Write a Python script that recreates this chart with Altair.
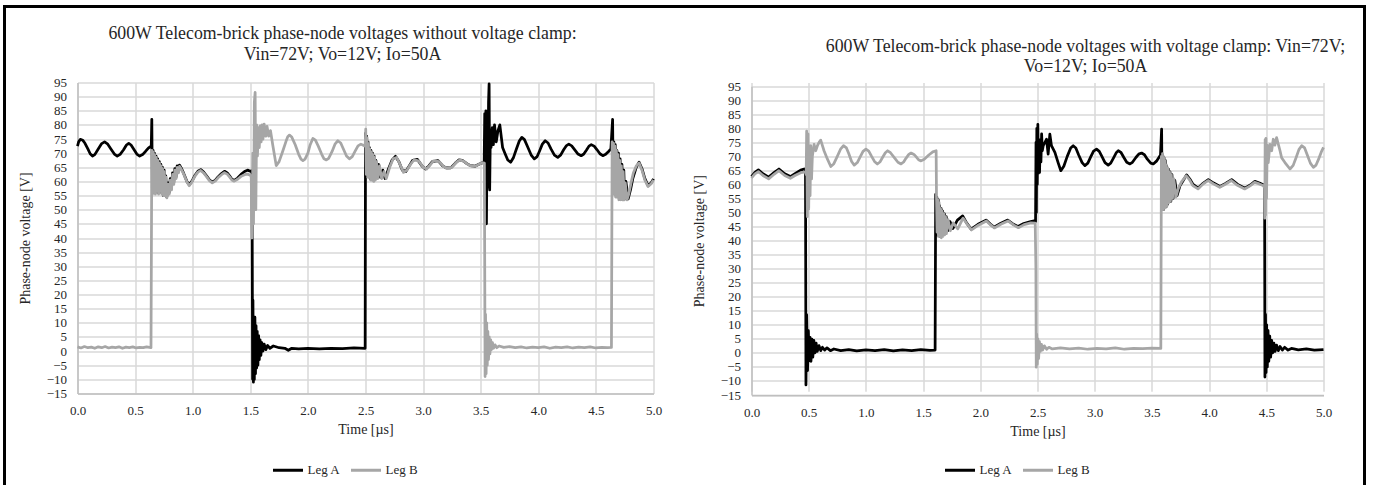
import altair as alt
import pandas as pd

# ---------------- data ----------------
# Left panel: without voltage clamp
LA_t = ([0.00, 0.01, 0.025, 0.045, 0.065, 0.09, 0.11, 0.13, 0.15, 0.18, 0.21, 0.235, 0.26, 0.29, 0.32, 0.345, 0.37, 0.40, 0.425, 0.445, 0.465, 0.49, 0.515, 0.54, 0.565, 0.59, 0.615, 0.632, 0.640, 0.645]
        + [0.650, 0.656, 0.662, 0.668, 0.675, 0.682, 0.689, 0.696, 0.703, 0.710, 0.717, 0.724, 0.731, 0.738, 0.745, 0.752, 0.759, 0.766, 0.775]
        + [0.785, 0.795, 0.805, 0.815, 0.825, 0.835, 0.845, 0.855, 0.865, 0.875, 0.885, 0.90, 0.915, 0.93, 0.95, 0.97, 0.995, 1.02, 1.045, 1.07, 1.095, 1.12, 1.145, 1.17, 1.195, 1.22, 1.25, 1.276, 1.30, 1.32, 1.34, 1.36, 1.39, 1.42, 1.45, 1.476, 1.50, 1.515]
        + [1.520, 1.523, 1.527, 1.531, 1.535, 1.540, 1.545, 1.550, 1.555, 1.560, 1.566, 1.572, 1.578, 1.585, 1.592, 1.600, 1.610, 1.620, 1.635, 1.650, 1.670, 1.700, 1.750, 1.800, 1.830, 1.860, 1.920, 2.000, 2.100, 2.200, 2.300, 2.400, 2.497]
        + [2.500, 2.505, 2.510, 2.516, 2.522, 2.528, 2.534, 2.540, 2.547, 2.554, 2.561, 2.568, 2.575, 2.582, 2.590, 2.600, 2.615, 2.630, 2.650, 2.670]
        + [2.700, 2.730, 2.760, 2.790, 2.820, 2.850, 2.880, 2.910, 2.950, 2.990, 3.020, 3.050, 3.080, 3.130, 3.170, 3.200, 3.240, 3.280, 3.310, 3.340, 3.380, 3.410, 3.450, 3.480, 3.500, 3.530]
        + [3.535, 3.540, 3.545, 3.550, 3.556, 3.562, 3.568, 3.573, 3.578, 3.584, 3.590, 3.600, 3.610, 3.620, 3.635, 3.650, 3.666, 3.690, 3.710, 3.735, 3.760, 3.785, 3.810, 3.835, 3.857, 3.880, 3.910, 3.940, 3.965, 3.990, 4.010, 4.035, 4.060, 4.085, 4.110, 4.140, 4.169, 4.195, 4.220, 4.245, 4.265, 4.290, 4.320, 4.345, 4.372, 4.395, 4.420, 4.440, 4.460, 4.485, 4.510, 4.535, 4.560, 4.585, 4.610, 4.630, 4.645]
        + [4.650, 4.656, 4.662, 4.668, 4.675, 4.682, 4.689, 4.696, 4.703, 4.710, 4.718, 4.726, 4.734, 4.742, 4.750, 4.760, 4.780, 4.800, 4.820, 4.850, 4.875, 4.900, 4.925, 4.953, 4.980, 5.000])
LA_v = ([72.5, 74.0, 74.9, 74.6, 73.5, 71.5, 69.8, 69.0, 69.5, 71.5, 73.4, 74.0, 73.3, 71.5, 69.7, 69.0, 69.6, 71.2, 72.9, 73.5, 72.9, 71.3, 69.7, 69.0, 69.5, 70.6, 71.8, 72.3, 72.0, 82.0]
        + [56, 71, 57, 70, 56, 69, 57, 68, 56, 67, 57, 66, 56, 65, 55, 64, 55, 62, 54.5]
        + [59.5, 56, 61, 57.5, 63, 59.5, 64.5, 61.5, 65.5, 63.5, 65.8, 64.8, 63.5, 62, 60, 58.8, 60.2, 62.2, 63.6, 64.2, 63.3, 62, 60.6, 59.8, 60.4, 61.6, 62.8, 63.6, 63, 62, 60.8, 60.4, 61.2, 62.5, 63.5, 64.0, 63.6, 63.8]
        + [-10, 18, -11, 10, -10, 12, -8, 9, -6, 7, -5, 5.5, -3, 4, -1.5, 3, 0, 2.5, 0.5, 2, 1, 1.8, 1.2, 1.0, 0.3, 1.0, 0.8, 1.0, 0.8, 1.0, 0.9, 1.1, 1.0]
        + [77, 63, 76, 62, 74, 62, 72, 61, 71, 61, 70, 60.5, 69, 61, 67.5, 61.5, 66, 61.5, 64, 61]
        + [64.5, 67.5, 68.9, 67, 64, 63.5, 65.5, 67.5, 67.8, 65.5, 64.4, 65.5, 67, 67.4, 65.5, 64.8, 64.8, 66.5, 67.6, 67.5, 66.3, 65.6, 65.4, 66, 66.4, 66.8]
        + [84, 47, 85, 45, 80, 58, 88, 94.5, 57, 78, 72, 79, 73, 80, 74, 78, 80, 72, 70, 67.6, 66.8, 68.5, 71.5, 74.3, 75.6, 74.8, 72, 69.2, 68, 68.8, 70.7, 73.2, 74.4, 73.6, 71.5, 69.3, 68.5, 69.4, 71.2, 72.7, 73.2, 72.6, 71, 69.7, 69.1, 69.7, 71.2, 72.5, 73, 72.5, 71.2, 69.8, 69.1, 69.6, 70.6, 71.5, 82]
        + [60, 74, 56, 73, 55, 71, 55, 70, 54, 68, 54, 66, 54, 64, 53.8, 60, 53.8, 57, 61, 65, 66.8, 64.5, 61, 58.5, 59.5, 60.9])

LB_t = ([0.00, 0.03, 0.06, 0.09, 0.12, 0.15, 0.18, 0.21, 0.24, 0.27, 0.30, 0.33, 0.36, 0.39, 0.42, 0.45, 0.48, 0.51, 0.54, 0.57, 0.60, 0.638]
        + [0.645, 0.651, 0.657, 0.663, 0.669, 0.676, 0.683, 0.690, 0.697, 0.704, 0.711, 0.718, 0.725, 0.732, 0.739, 0.746, 0.753, 0.760, 0.767, 0.776]
        + [0.786, 0.796, 0.806, 0.816, 0.826, 0.836, 0.846, 0.856, 0.866, 0.876, 0.886, 0.90, 0.915, 0.93, 0.95, 0.97, 0.995, 1.02, 1.045, 1.07, 1.095, 1.12, 1.145, 1.17, 1.195, 1.22, 1.25, 1.276, 1.30, 1.32, 1.34, 1.36, 1.39, 1.42, 1.45, 1.476, 1.50]
        + [1.508, 1.515, 1.522, 1.528, 1.535, 1.542, 1.548, 1.555, 1.562, 1.570, 1.578, 1.586, 1.594, 1.602, 1.610, 1.620, 1.635, 1.645, 1.660, 1.675, 1.696, 1.725, 1.750, 1.780, 1.810, 1.825, 1.840, 1.860, 1.890, 1.920, 1.940, 1.957, 1.975, 2.000, 2.020, 2.043, 2.065, 2.090, 2.120, 2.140, 2.160, 2.180, 2.210, 2.235, 2.260, 2.285, 2.310, 2.335, 2.360, 2.385, 2.410, 2.435, 2.460, 2.480, 2.497]
        + [2.502, 2.507, 2.513, 2.519, 2.525, 2.531, 2.537, 2.544, 2.551, 2.558, 2.565, 2.572, 2.579, 2.586, 2.595, 2.607, 2.622, 2.640, 2.660, 2.680]
        + [2.710, 2.740, 2.770, 2.800, 2.830, 2.860, 2.890, 2.920, 2.960, 3.000, 3.030, 3.060, 3.090, 3.140, 3.180, 3.210, 3.250, 3.290, 3.320, 3.350, 3.390, 3.420, 3.460, 3.490, 3.520, 3.532]
        + [3.538, 3.542, 3.547, 3.552, 3.557, 3.562, 3.568, 3.574, 3.580, 3.587, 3.594, 3.602, 3.612, 3.625, 3.640, 3.660, 3.700, 3.750, 3.800, 3.850, 3.900, 3.950, 4.000, 4.050, 4.100, 4.150, 4.200, 4.250, 4.300, 4.350, 4.400, 4.450, 4.500, 4.550, 4.600, 4.635]
        + [4.641, 4.647, 4.653, 4.659, 4.665, 4.671, 4.678, 4.685, 4.692, 4.699, 4.706, 4.713, 4.721, 4.729, 4.737, 4.745, 4.755, 4.770, 4.785, 4.805, 4.825, 4.850, 4.875, 4.900, 4.925, 4.953, 4.980, 5.000])
LB_v = ([1.5, 1.1, 1.6, 1.2, 1.4, 1.0, 1.5, 1.2, 1.6, 1.1, 1.4, 1.2, 1.5, 1.0, 1.4, 1.2, 1.5, 1.1, 1.3, 1.2, 1.5, 1.2]
        + [71, 55.5, 70.5, 56.5, 69.5, 55.5, 68.5, 56.5, 67.5, 55.5, 66.5, 56.5, 65.5, 55.5, 64.5, 55, 63.5, 55, 61.5, 54.2]
        + [59, 55.5, 60.5, 57, 62.5, 59, 64, 61, 65, 63, 65.3, 64.4, 63.2, 61.8, 59.8, 58.5, 59.9, 61.9, 63.3, 63.9, 63, 61.7, 60.3, 59.5, 60.1, 61.3, 62.4, 63.1, 62.6, 61.6, 60.5, 60.1, 60.8, 61.8, 62.4, 62.6, 62.2]
        + [61.5, 40, 70, 45, 88, 91.5, 50, 80, 69, 79, 72, 79.7, 74, 80, 75, 80.3, 76, 79.5, 76, 78, 72.6, 65.6, 67.0, 70.5, 74.2, 75.8, 76.4, 75.7, 73.0, 69.6, 67.9, 67.4, 67.9, 70.0, 73.0, 75.2, 74.6, 72.5, 69.6, 68.0, 67.6, 68.2, 70.6, 73.2, 74.4, 73.6, 71.3, 69.0, 68.0, 68.8, 70.7, 72.6, 73.2, 72.8, 72.5]
        + [78.5, 62.5, 75.5, 61.5, 73.5, 61.5, 71.5, 60.5, 70.5, 60.5, 69.5, 60, 68.5, 60.5, 67, 61, 65.5, 61, 63.5, 61]
        + [65, 68, 68.5, 66, 63.2, 64, 66, 67.6, 67.3, 65, 64.4, 65.8, 67.3, 67, 65.2, 64.6, 65, 66.8, 67.6, 67.2, 66, 65.4, 65.5, 66.2, 66.6, 66.5]
        + [-9, 13, -8, 10, -5, 7, -3, 5, -1, 4, 0.5, 3, 1, 2.2, 1.2, 1.8, 1.3, 1.6, 1.2, 1.5, 1.1, 1.4, 1.2, 1.5, 1.0, 1.4, 1.2, 1.5, 1.1, 1.4, 1.2, 1.5, 1.1, 1.3, 1.2, 1.3]
        + [74, 55.5, 73.5, 55.5, 72.5, 54.5, 71, 54.5, 69.5, 53.5, 67.5, 53.5, 65.5, 53.5, 63.5, 53.5, 59.5, 53.5, 55.5, 59.5, 63, 65.5, 66.5, 64, 60.5, 58.2, 59.2, 60.5])

# Right panel: with voltage clamp
RA_t = ([0.00, 0.03, 0.06, 0.10, 0.15, 0.20, 0.24, 0.29, 0.34, 0.38, 0.43, 0.46, 0.472]
        + [0.476, 0.482, 0.490, 0.497, 0.505, 0.512, 0.520, 0.528, 0.536, 0.545, 0.555, 0.565, 0.575, 0.590, 0.605, 0.620, 0.640, 0.660, 0.690, 0.720, 0.780]
        + [0.85, 0.92, 1.00, 1.08, 1.16, 1.24, 1.32, 1.40, 1.48, 1.56, 1.605]
        + [1.610, 1.615, 1.620, 1.626, 1.632, 1.638, 1.644, 1.650, 1.657, 1.664, 1.671, 1.678, 1.686, 1.694, 1.702, 1.715, 1.735, 1.760, 1.800, 1.846, 1.880, 1.920, 1.980, 2.050, 2.090, 2.120, 2.180, 2.240, 2.290, 2.330, 2.380, 2.440, 2.470, 2.483]
        + [2.487, 2.490, 2.494, 2.498, 2.503, 2.508, 2.513, 2.518, 2.524, 2.530, 2.536, 2.542, 2.550, 2.565, 2.579, 2.593, 2.608, 2.622, 2.652, 2.680, 2.704, 2.730, 2.760, 2.790, 2.812, 2.835, 2.860, 2.890, 2.914, 2.940, 2.965, 2.990, 3.016, 3.040, 3.065, 3.090, 3.118, 3.140, 3.165, 3.190, 3.206, 3.230, 3.255, 3.280, 3.308, 3.330, 3.360, 3.385, 3.410, 3.435, 3.460, 3.490, 3.512, 3.540, 3.561, 3.575, 3.585]
        + [3.590, 3.595, 3.600, 3.606, 3.612, 3.618, 3.624, 3.630, 3.637, 3.644, 3.651, 3.658, 3.666, 3.675, 3.685, 3.700, 3.720, 3.745, 3.775, 3.803, 3.830, 3.860, 3.905, 3.950, 3.993, 4.040, 4.095, 4.140, 4.197, 4.250, 4.313, 4.360, 4.400, 4.440, 4.474, 4.485]
        + [4.488, 4.493, 4.498, 4.503, 4.509, 4.515, 4.522, 4.530, 4.538, 4.547, 4.556, 4.566, 4.577, 4.590, 4.605, 4.620, 4.640, 4.660, 4.690, 4.720, 4.780, 4.850, 4.920, 5.000])
RA_v = ([62.8, 64.3, 65.2, 63.8, 62.6, 64.3, 65.5, 63.8, 62.8, 63.8, 65.1, 65.5, 65.6]
        + [-11.4, 13.6, -6.3, 7.9, -2.8, 5.5, -3, 4.9, -1.5, 4.5, 0, 3.5, 0.5, 2.6, 0.8, 2, 1, 1.8, 0.8, 1.4, 0.8]
        + [1.2, 0.7, 1.1, 0.8, 1.2, 0.7, 1.1, 0.8, 1.2, 0.9, 1.0]
        + [56.5, 43.5, 55.5, 42, 54.5, 42, 52.5, 41.5, 51.5, 42, 50.5, 42.5, 49.5, 43, 48.5, 43.5, 46.8, 44.3, 47.3, 48.8, 46.3, 44.1, 45.8, 47.3, 45.8, 44.8, 46.2, 47.3, 45.8, 45, 46.1, 46.8, 47, 46.8]
        + [75, 50, 80, 60, 81.4, 64, 74, 64.3, 76, 68, 78, 72, 73.8, 75, 76.1, 70.8, 77.9, 73.8, 71.4, 67.8, 64.9, 66.5, 70, 73, 73.8, 73, 70.5, 67.8, 66.7, 67.6, 69.8, 71.9, 72.6, 71.8, 69.8, 67.8, 66.9, 67.6, 69.5, 71.4, 72, 71.4, 69.6, 67.9, 67.3, 67.9, 69.6, 70.8, 71.2, 70.6, 69, 67.6, 67.3, 68.3, 69.6, 70.5, 79.7]
        + [52, 70.5, 51, 69.5, 52, 68.5, 52, 66.5, 53, 65.5, 54, 64.5, 54, 63.5, 55, 61.5, 56, 59.5, 61.5, 63.4, 62, 60, 58.7, 60.5, 61.7, 60.5, 59.3, 60.3, 61.7, 60, 58.7, 59.8, 61.1, 60.5, 59.9, 59.5]
        + [-8.6, 13.7, -7, 10, -5, 8, -3, 6, -1.5, 4.5, 0, 3.5, 0.5, 2.8, 0.8, 2.3, 1, 2, 1, 1.6, 1.1, 1.4, 1.0, 1.2])

RB_t = ([0.00, 0.03, 0.06, 0.10, 0.15, 0.20, 0.24, 0.29, 0.34, 0.38, 0.43, 0.46, 0.474]
        + [0.478, 0.482, 0.488, 0.494, 0.500, 0.506, 0.512, 0.518, 0.525, 0.532, 0.547, 0.561, 0.576, 0.591, 0.605, 0.620, 0.634, 0.664, 0.693, 0.720, 0.750, 0.780, 0.804, 0.830, 0.850, 0.875, 0.898, 0.925, 0.950, 0.975, 1.000, 1.025, 1.050, 1.075, 1.100, 1.125, 1.145, 1.170, 1.190, 1.215, 1.250, 1.280, 1.307, 1.330, 1.350, 1.375, 1.395, 1.420, 1.440, 1.460, 1.482, 1.510, 1.550, 1.585, 1.614]
        + [1.617, 1.622, 1.628, 1.634, 1.640, 1.646, 1.652, 1.659, 1.666, 1.673, 1.680, 1.688, 1.696, 1.704, 1.718, 1.738, 1.763, 1.803, 1.849, 1.883, 1.923, 1.983, 2.053, 2.093, 2.123, 2.183, 2.243, 2.293, 2.333, 2.383, 2.443, 2.480]
        + [2.486, 2.489, 2.493, 2.498, 2.503, 2.510, 2.517, 2.525, 2.535, 2.545, 2.560, 2.580, 2.600, 2.630]
        + [2.70, 2.78, 2.86, 2.94, 3.02, 3.10, 3.18, 3.26, 3.34, 3.42, 3.50, 3.578]
        + [3.583, 3.588, 3.593, 3.598, 3.603, 3.609, 3.615, 3.621, 3.627, 3.633, 3.640, 3.647, 3.654, 3.662, 3.670, 3.680, 3.692, 3.710, 3.730, 3.760, 3.800, 3.828, 3.858, 3.903, 3.948, 3.991, 4.038, 4.093, 4.138, 4.195, 4.248, 4.311, 4.358, 4.398, 4.438, 4.472, 4.484]
        + [4.487, 4.490, 4.493, 4.497, 4.502, 4.508, 4.517, 4.532, 4.547, 4.561, 4.575, 4.590, 4.620, 4.634, 4.663, 4.707, 4.735, 4.760, 4.785, 4.809, 4.835, 4.860, 4.885, 4.911, 4.935, 4.960, 4.980, 5.000])
RB_v = ([62.3, 63.8, 64.6, 63.2, 62.0, 63.7, 64.9, 63.2, 62.2, 63.2, 64.2, 64.4, 64.5]
        + [63.5, 79, 48.5, 78, 51.3, 73.8, 56, 73.8, 62, 70, 74.3, 72, 73.8, 75, 75.8, 73.8, 72, 69, 66.4, 67.4, 70, 72.7, 73.8, 73, 71, 68.2, 66.9, 67.8, 69.8, 71.8, 72.6, 71.9, 70, 68.2, 67.3, 68.1, 69.6, 71.3, 72, 71.3, 69.5, 67.9, 67.3, 68, 69.3, 70.7, 71.2, 70.7, 69.8, 68.8, 68.4, 69, 70.5, 71.6, 72]
        + [55.5, 43, 54.5, 41.5, 53.5, 41.5, 51.5, 41, 50.5, 41.5, 49.5, 42, 48.5, 42.5, 47.5, 43.5, 46.3, 44.2, 48, 46, 43.8, 45.5, 47, 45.5, 44.5, 45.9, 47, 45.5, 44.6, 45.7, 46.3, 46.2]
        + [30, -5.1, 6.7, -4, 5, -2, 4, 0.5, 3, 1, 2.5, 1.3, 2, 1.4]
        + [1.8, 1.4, 1.7, 1.3, 1.6, 1.4, 1.8, 1.3, 1.6, 1.5, 1.7, 1.6]
        + [70, 51.5, 71, 51, 69.5, 51.5, 68.5, 52, 67, 52.5, 65.5, 53.5, 64.5, 54, 63.5, 55, 62, 55.5, 58.5, 61, 63.1, 61.7, 59.6, 58.4, 60.2, 61.4, 60.2, 59, 60, 61.4, 59.7, 58.4, 59.5, 60.8, 60.2, 59.6, 59]
        + [48, 76, 49, 76.4, 55, 74, 67.8, 74.3, 72, 76.1, 74, 76.7, 72, 69.5, 67.8, 65.5, 66.8, 69.5, 72.4, 73.8, 73, 70.3, 67.6, 66.1, 66.9, 69.3, 71.5, 73.2])

SERIES = ["Leg A", "Leg B"]
COLORS = ["#000000", "#a6a6a6"]
Y_TICKS = list(range(-15, 100, 5))
X_TICKS = [0.0, 0.5, 1.0, 1.5, 2.0, 2.5, 3.0, 3.5, 4.0, 4.5, 5.0]
TITLE_L = ["600W Telecom-brick phase-node voltages without voltage clamp:", "Vin=72V; Vo=12V; Io=50A"]
TITLE_R = ["600W Telecom-brick phase-node voltages with voltage clamp: Vin=72V;", "Vo=12V; Io=50A"]
X_TITLE = "Time [µs]"
Y_TITLE = "Phase-node voltage [V]"

# ---------------- styling ----------------
FONT = "Liberation Serif, Times New Roman, serif"
TXT = "#262626"
GRID = "#d9d9d9"
DOMAIN = "#bfbfbf"


def series_df(ts, vs, name):
    return pd.DataFrame({"t": ts, "v": vs, "series": name, "i": list(range(len(ts)))})


def panel(a_t, a_v, b_t, b_v, title, w, h, yrange, tdx, tdy, lh, lx, ly, extra=()):
    x = alt.X("t:Q", scale=alt.Scale(domain=[0, 5], nice=False, zero=False),
              axis=alt.Axis(values=X_TICKS, format=".1f", title=X_TITLE, grid=True,
                            gridColor=GRID, gridWidth=1.5, domainColor=DOMAIN, domainWidth=1.5,
                            ticks=False, labelPadding=11, labelFontSize=13, labelFont=FONT,
                            labelColor=TXT, labelFlush=False, labelOverlap=False,
                            titleFont=FONT, titleFontSize=14, titleFontWeight="normal",
                            titleColor=TXT, titlePadding=5))
    if yrange is not None:
        yscale = alt.Scale(domain=[-15, 95], nice=False, zero=False, range=yrange)
    else:
        yscale = alt.Scale(domain=[-15, 95], nice=False, zero=False)
    y = alt.Y("v:Q", scale=yscale,
              axis=alt.Axis(values=Y_TICKS, title=Y_TITLE, grid=True, gridColor=GRID,
                            gridWidth=1.5, domainColor=DOMAIN, domainWidth=1.5, ticks=False,
                            labelPadding=11, labelFontSize=13, labelFont=FONT, labelColor=TXT,
                            labelOverlap=False, labelFlush=False, titleFont=FONT, titleFontSize=14,
                            titleFontWeight="normal", titleColor=TXT, titlePadding=14))
    color = alt.Color("series:N", scale=alt.Scale(domain=SERIES, range=COLORS),
                      legend=alt.Legend(title=None, orient="none", legendX=lx, legendY=ly,
                                        direction="horizontal", symbolType="stroke",
                                        symbolSize=900, symbolStrokeWidth=3, labelFontSize=13,
                                        labelFont=FONT, labelColor=TXT, labelOffset=3,
                                        columnPadding=4, padding=0))

    def line(df):
        return alt.Chart(df).mark_line(strokeWidth=2.75, strokeJoin="round").encode(
            x=x, y=y, color=color, order="i:Q")

    layers = [line(series_df(a_t, a_v, "Leg A")), line(series_df(b_t, b_v, "Leg B"))] + list(extra)
    return alt.layer(*layers).properties(
        width=w, height=h,
        title=alt.TitleParams(text=title, font=FONT, fontSize=17.8, fontWeight="normal",
                              color=TXT, anchor="middle", frame="group", dx=tdx, dy=tdy,
                              offset=0, lineHeight=lh, baseline="alphabetic"))


FRAME_DF = pd.DataFrame({"k": [0]})
frame_left = alt.Chart(FRAME_DF).mark_rule(color="black", strokeWidth=3, strokeCap="square").encode(
    x=alt.value(-73), y=alt.value(-76), y2=alt.value(401))
frame_top = alt.Chart(FRAME_DF).mark_rule(color="black", strokeWidth=3, strokeCap="square").encode(
    x=alt.value(-73), x2=alt.value(1287), y=alt.value(-76))
frame_right = alt.Chart(FRAME_DF).mark_rule(color="black", strokeWidth=3, strokeCap="square").encode(
    x=alt.value(1287), y=alt.value(-76), y2=alt.value(401))

left = panel(LA_t, LA_v, LB_t, LB_v, TITLE_L, 576, 311, None, -23, 73.5, 21.5, 194, 371,
             extra=(frame_left, frame_top, frame_right))
right = panel(RA_t, RA_v, RB_t, RB_v, TITLE_R, 572, 312.5, [312.5, 3.7], 48, 10, 20, 192, 371)

chart = alt.hconcat(left, right, spacing=98, bounds="flush").resolve_scale(
    x="independent", y="independent", color="independent"
).resolve_legend(color="independent").configure(
    background="white", font=FONT, padding={"left": 1.5, "top": 3.5, "right": 0, "bottom": 0}
).configure_view(stroke=None)

chart.save("out.html", embed_options={"renderer": "svg", "actions": False})
